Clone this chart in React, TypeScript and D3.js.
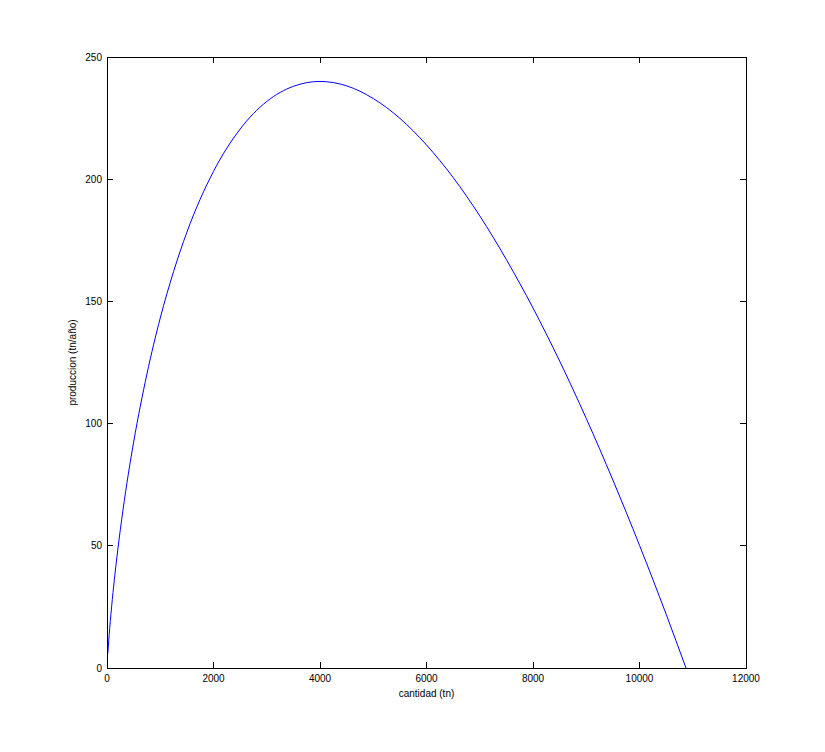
import React from "react";
import * as d3 from "d3";

const cantidad = [15, 50, 100, 200, 300, 400, 500, 750, 1000, 1250, 1500, 2000, 2500, 3000, 3500, 4000, 4500, 5000, 5500, 6000, 6500, 7000, 7500, 8000, 8500, 9000, 9500, 10000, 10500, 10873];
const produccion = [5.9, 16.1, 28.1, 47.9, 64.6, 79.3, 92.4, 120.3, 143.2, 162.2, 178.3, 203.2, 220.5, 231.8, 238.0, 240.0, 238.2, 233.0, 224.9, 214.0, 200.7, 185.0, 167.1, 147.3, 125.6, 102.1, 76.9, 50.2, 22.0, 0];
const xTicks = [0, 2000, 4000, 6000, 8000, 10000, 12000];
const yTicks = [0, 50, 100, 150, 200, 250];

export default function App() {
  const W = 825, H = 752;
  const left = 107, right = 746, top = 57, bottom = 668;
  const x = d3.scaleLinear().domain([0, 12000]).range([left, right]);
  const y = d3.scaleLinear().domain([0, 250]).range([bottom, top]);
  const pts = cantidad.map((c, i) => [c, produccion[i]] as [number, number]);
  const line = d3.line<[number, number]>().x(d => x(d[0])).y(d => y(d[1])).curve(d3.curveMonotoneX);
  const tl = 6;
  const font = "Liberation Sans, Arial, sans-serif";
  return (
    <svg width={W} height={H} style={{ position: "absolute", left: 0, top: 0, background: "#fff" }} fontFamily={font} fontSize={10}>
      <rect x={0} y={0} width={W} height={H} fill="#fff" />
      <path d={line(pts) || ""} fill="none" stroke="#0000ff" strokeWidth={1} />
      <rect x={left} y={top} width={right - left} height={bottom - top} fill="none" stroke="#000" strokeWidth={1} shapeRendering="crispEdges" />
      {xTicks.map(t => (
        <g key={"x" + t}>
          <line x1={x(t)} x2={x(t)} y1={bottom} y2={bottom - tl} stroke="#000" shapeRendering="crispEdges" />
          <line x1={x(t)} x2={x(t)} y1={top} y2={top + tl} stroke="#000" shapeRendering="crispEdges" />
          <text x={x(t)} y={bottom + 14} textAnchor="middle" fill="#000">{t}</text>
        </g>
      ))}
      {yTicks.map(t => (
        <g key={"y" + t}>
          <line x1={left} x2={left + tl} y1={y(t)} y2={y(t)} stroke="#000" shapeRendering="crispEdges" />
          <line x1={right} x2={right - tl} y1={y(t)} y2={y(t)} stroke="#000" shapeRendering="crispEdges" />
          <text x={left - 5} y={y(t) + 3.5} textAnchor="end" fill="#000">{t}</text>
        </g>
      ))}
      <text x={(left + right) / 2} y={697} textAnchor="middle" fill="#000">cantidad (tn)</text>
      <text transform={`translate(76,${(top + bottom) / 2}) rotate(-90)`} textAnchor="middle" fill="#000">produccion (tn/año)</text>
    </svg>
  );
}
